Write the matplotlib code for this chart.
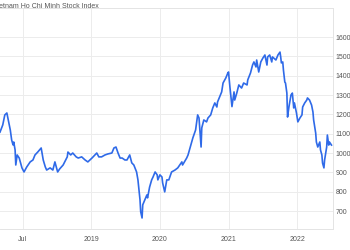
#Vietnam Ho Chi Minh Stock Index, weekly-ish readings
import matplotlib.pyplot as plt
import numpy as np

#Dates as decimal years and index values
years = [2018.17, 2018.21, 2018.24, 2018.27, 2018.29, 2018.32, 2018.34, 2018.36, 2018.37, 2018.39,
         2018.40, 2018.42, 2018.45, 2018.49, 2018.52, 2018.56, 2018.61, 2018.65, 2018.68, 2018.72,
         2018.77, 2018.80, 2018.83, 2018.85, 2018.90, 2018.94, 2018.97, 2019.01, 2019.04, 2019.09,
         2019.15, 2019.16, 2019.20, 2019.23, 2019.28, 2019.31, 2019.36, 2019.41, 2019.45, 2019.51,
         2019.54, 2019.58, 2019.61, 2019.65, 2019.70, 2019.74, 2019.80, 2019.83, 2019.86, 2019.89,
         2019.92, 2019.95, 2019.99, 2020.02, 2020.06, 2020.09, 2020.12, 2020.16, 2020.18, 2020.21,
         2020.22, 2020.24, 2020.25, 2020.28, 2020.31, 2020.32, 2020.35, 2020.38, 2020.40, 2020.43,
         2020.46, 2020.47, 2020.50, 2020.53, 2020.54, 2020.57, 2020.60, 2020.63, 2020.67, 2020.72,
         2020.76, 2020.82, 2020.83, 2020.89, 2020.91, 2020.96, 2020.98, 2021.02, 2021.05, 2021.07,
         2021.10, 2021.11, 2021.14, 2021.18, 2021.20, 2021.24, 2021.27, 2021.30, 2021.33, 2021.34,
         2021.40, 2021.42, 2021.46, 2021.49, 2021.50, 2021.52, 2021.55, 2021.58, 2021.59, 2021.62,
         2021.65, 2021.69, 2021.72, 2021.77, 2021.78, 2021.82, 2021.85, 2021.87, 2021.90, 2021.91,
         2021.94, 2021.97, 2022.00, 2022.03, 2022.06, 2022.07, 2022.10, 2022.13, 2022.14, 2022.19,
         2022.22, 2022.25, 2022.26, 2022.27, 2022.29, 2022.30, 2022.32, 2022.33, 2022.35, 2022.36,
         2022.38, 2022.41, 2022.43, 2022.45, 2022.46, 2022.49, 2022.51, 2022.54, 2022.57, 2022.58,
         2022.61, 2022.64, 2022.65, 2022.68, 2022.71, 2022.73, 2022.74, 2022.77, 2022.78, 2022.80,
         2022.83, 2022.84, 2022.86, 2022.87, 2022.89, 2022.90, 2022.93, 2022.94, 2022.96, 2022.97,
         2023.00]
index = [1108, 1145, 1197, 1207, 1171, 1119, 1067, 1042, 1057, 1016,
         938, 990, 974, 923, 902, 928, 954, 964, 990, 1005,
         1026, 964, 928, 912, 923, 912, 954, 902, 918, 938,
         980, 1005, 990, 1000, 980, 974, 980, 964, 954, 974,
         985, 1000, 980, 980, 990, 995, 1000, 1026, 1031, 1000,
         974, 974, 964, 964, 990, 949, 938, 902, 861, 758,
         696, 664, 732, 758, 783, 768, 824, 861, 876, 902,
         887, 861, 887, 876, 845, 799, 861, 861, 902, 912,
         923, 954, 938, 974, 990, 1052, 1078, 1119, 1197, 1181,
         1031, 1130, 1171, 1161, 1181, 1197, 1233, 1259, 1238, 1264,
         1316, 1362, 1388, 1414, 1419, 1342, 1240, 1316, 1274, 1310,
         1352, 1336, 1362, 1352, 1378, 1414, 1455, 1471, 1445, 1481,
         1419, 1471, 1491, 1507, 1455, 1497, 1507, 1471, 1497, 1481,
         1507, 1522, 1497, 1466, 1471, 1429, 1367, 1362, 1310, 1186,
         1238, 1300, 1310, 1233, 1259, 1207, 1161, 1181, 1197, 1238,
         1259, 1274, 1285, 1274, 1248, 1212, 1171, 1103, 1057, 1031,
         1057, 1016, 990, 948, 923, 964, 1031, 1093, 1041, 1057,
         1041]

tick_pos = [2018.5, 2019.5, 2020.5, 2021.5, 2022.5]
tick_labels = ['Jul', '2019', '2020', '2021', '2022']
ytick_vals = [700, 800, 900, 1000, 1100, 1200, 1300, 1400, 1500, 1600]

plt.rcParams['font.family'] = ['Liberation Sans', 'DejaVu Sans']

fig = plt.figure(figsize=(3.5, 2.5), dpi=100)
ax = fig.add_axes([0.0, 0.084, 0.951, 0.884])
ax.plot(years, index, color='#2f6ae8', linewidth=1.2)

ax.set_xlim(2018.17, 2023.02)
ax.set_ylim(607, 1750)
ax.set_xticks(tick_pos)
ax.set_xticklabels(tick_labels)
ax.set_yticks(ytick_vals)
ax.yaxis.tick_right()
ax.tick_params(axis='both', length=0, labelsize=5, colors='#555555')
ax.tick_params(axis='y', pad=2)
ax.tick_params(axis='x', pad=5)
ax.grid(True, color='#ececec', linewidth=0.7)
for side in ['top', 'right', 'bottom']:
    ax.spines[side].set_color('#e4e4e4')
    ax.spines[side].set_linewidth(0.7)
ax.spines['left'].set_visible(False)

#title is cut at the left edge in the reference too
fig.text(-0.02, 0.972, 'Vietnam Ho Chi Minh Stock Index', fontsize=5, color='#555555', va='center')

fig.savefig('out.png', dpi=100)
